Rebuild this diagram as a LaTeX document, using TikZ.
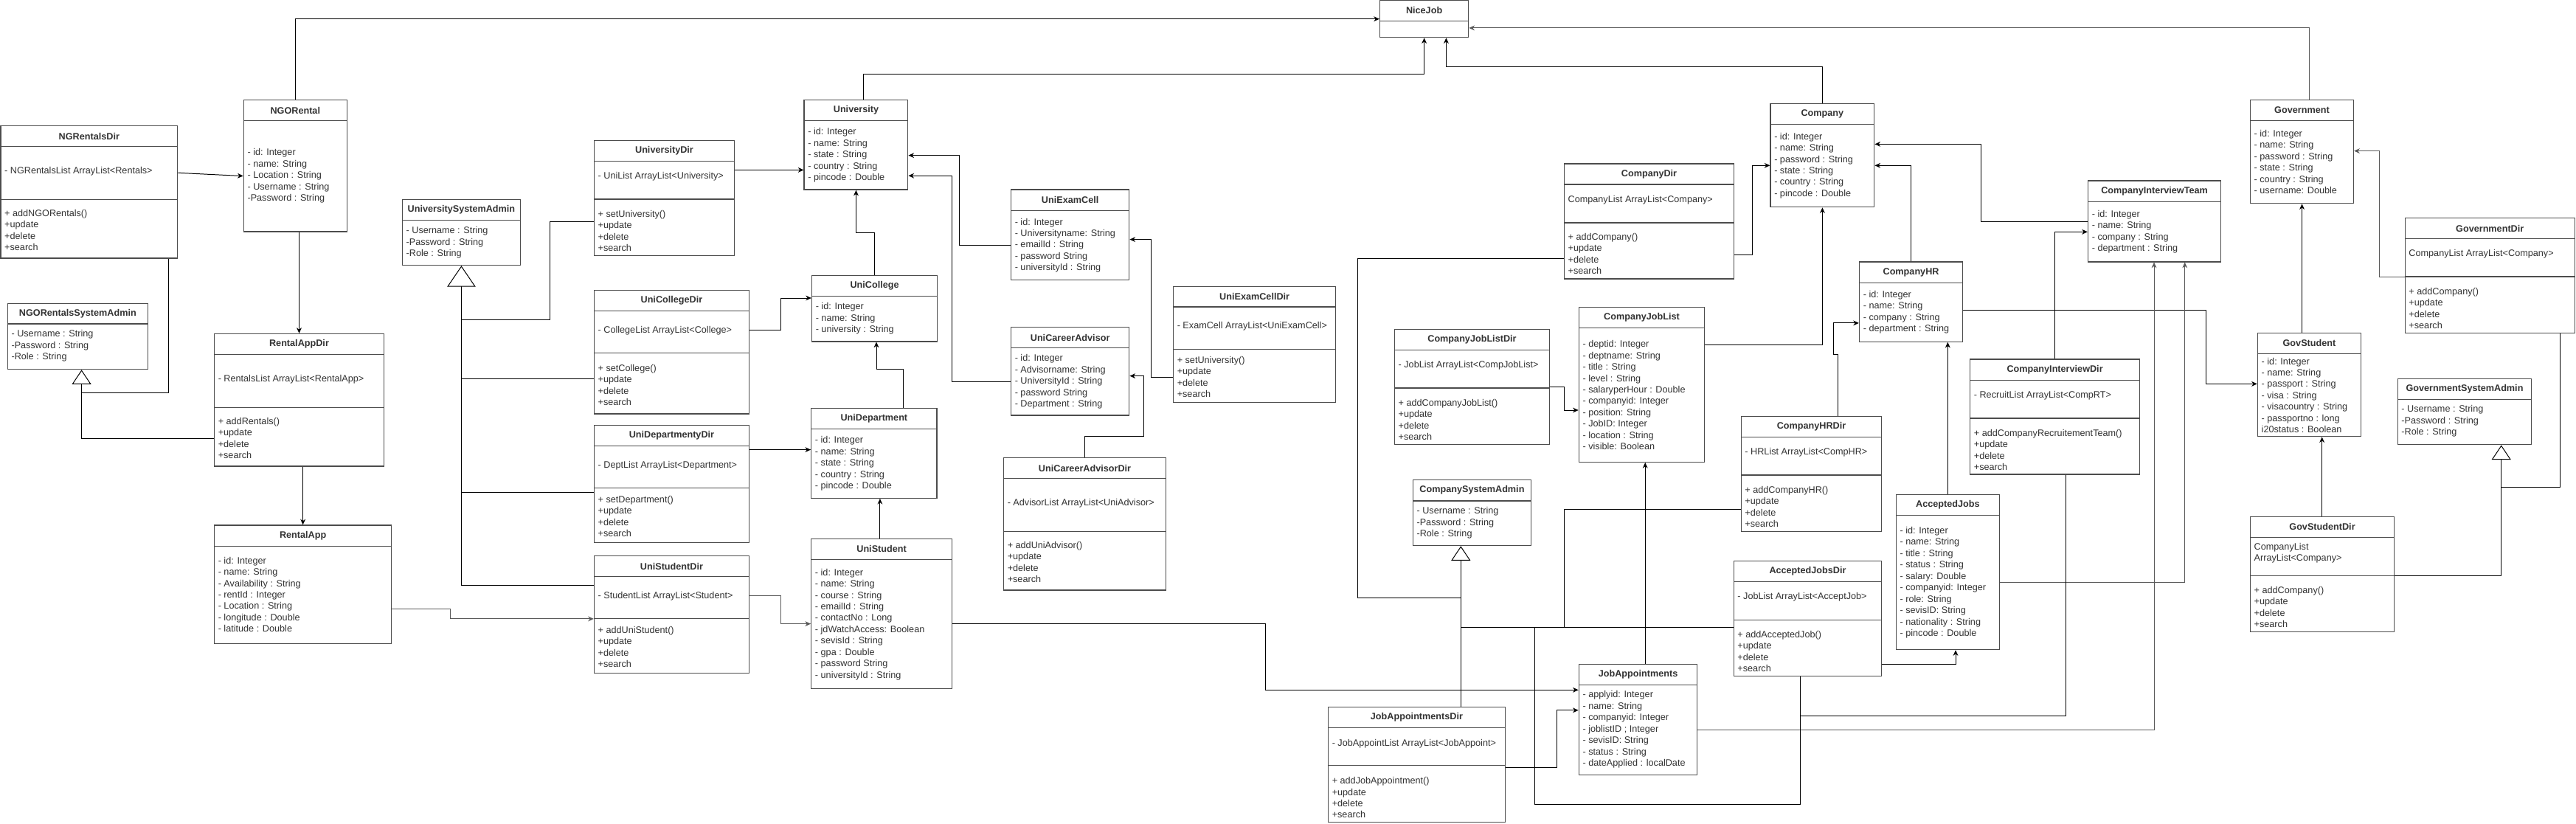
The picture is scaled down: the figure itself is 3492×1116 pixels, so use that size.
\documentclass[tikz,border=0pt]{standalone}
\usepackage{fontspec}
\setmainfont{Liberation Sans}
\usetikzlibrary{arrows.meta,fit,positioning}

% class box: name, x1, y1, x2, y2, header line, title
\newcommand{\umlclass}[7]{%
  \node[classbox, fit={(#2,#3) (#4,#5)}] (#1) {};
  \draw[boxline] (#2,#6) -- (#4,#6);
  \node[classtitle] at ({(#2+#4)/2},{(#3+#6)/2}) {#7};}
\newcommand{\umlsep}[2]{\draw[boxline] (#1.west |- 0,#2) -- (#1.east |- 0,#2);}
\newcommand{\umltext}[3]{\node[classtext] at (#1.west |- 0,#2) {#3};}
\newcommand{\crud}[1]{+ #1\\+update\\+delete\\+search}

\begin{document}
\begin{tikzpicture}
		[x=0.25mm, y=-0.25mm,
		classbox/.style={draw=black!70, line width=0.9pt, inner sep=0pt, fill=white},
		boxline/.style={draw=black!70, line width=0.9pt},
		classtitle/.style={font=\fontsize{9}{11}\selectfont\bfseries, text=black!80, inner sep=0pt},
		classtext/.style={font=\fontsize{9}{11}\selectfont, text=black!80, anchor=west, align=left, inner sep=0pt, xshift=1.4mm},
		wire/.style={draw=black, line width=0.7pt},
		link/.style={wire, -{Stealth[length=1.9mm, width=1.7mm, inset=0.6mm]}},
		greylink/.style={link, draw=black!65},
		gen/.style={wire, -{Triangle[length=4.9mm, width=6.5mm, fill=white]}},
		biggen/.style={wire, -{Triangle[length=7.1mm, width=9.6mm, fill=white]}}]
		\useasboundingbox (0,0) rectangle (3492,1116);

		% NGO rentals
		\umlclass{ngoRentalsDir}{1}{170.4}{240.7}{350}{198.6}{NGRentalsDir}
		\umlsep{ngoRentalsDir}{270.4}
		\umltext{ngoRentalsDir}{232.5}{- NGRentalsList ArrayList<Rentals>}
		\umltext{ngoRentalsDir}{312}{\crud{addNGORentals()}}
		\umlclass{ngoRental}{330.3}{135.4}{470.3}{314}{163.6}{NGORental}
		\umltext{ngoRental}{238.4}{- id: Integer\\- name: String\\- Location : String\\- Username : String\\-Password : String}
		\umlclass{ngoAdmin}{10.3}{411.4}{200.5}{500.7}{439}{NGORentalsSystemAdmin}
		\umltext{ngoAdmin}{468.8}{- Username : String\\-Password : String\\-Role : String}
		\umlclass{rentalAppDir}{290.5}{452.5}{520.5}{632}{480.4}{RentalAppDir}
		\umlsep{rentalAppDir}{552.5}
		\umltext{rentalAppDir}{514.3}{- RentalsList ArrayList<RentalApp>}
		\umltext{rentalAppDir}{594}{\crud{addRentals()}}
		\umlclass{rentalApp}{290.5}{712}{530.8}{872.4}{740.3}{RentalApp}
		\umltext{rentalApp}{806}{- id: Integer\\- name: String\\- Availability : String\\- rentId : Integer\\- Location : String\\- longitude : Double\\- latitude : Double}

		% university
		\umlclass{uniAdmin}{545.4}{270.7}{705.5}{359.6}{298.6}{UniversitySystemAdmin}
		\umltext{uniAdmin}{329.1}{- Username : String\\-Password : String\\-Role : String}
		\umlclass{uniDir}{805.4}{190.4}{995.6}{346.4}{218.2}{UniversityDir}
		\umlsep{uniDir}{270}
		\umltext{uniDir}{239.3}{- UniList ArrayList<University>}
		\umltext{uniDir}{312.9}{\crud{setUniversity()}}
		\umlclass{collegeDir}{805.4}{393.6}{1015.5}{561}{421.4}{UniCollegeDir}
		\umlsep{collegeDir}{478.2}
		\umltext{collegeDir}{448.2}{- CollegeList ArrayList<College>}
		\umltext{collegeDir}{521.8}{\crud{setCollege()}}
		\umlclass{deptDir}{805.4}{576.7}{1015.5}{735.6}{604.6}{UniDepartmentyDir}
		\umlsep{deptDir}{661.7}
		\umltext{deptDir}{631.4}{- DeptList ArrayList<Department>}
		\umltext{deptDir}{700}{\crud{setDepartment()}}
		\umlclass{studentDir}{805.4}{753.5}{1015.5}{912.4}{781.7}{UniStudentDir}
		\umlsep{studentDir}{838.5}
		\umltext{studentDir}{808.5}{- StudentList ArrayList<Student>}
		\umltext{studentDir}{877}{\crud{addUniStudent()}}
		\umlclass{university}{1090.1}{135.4}{1230.8}{257.1}{163.6}{University}
		\umltext{university}{210.4}{- id: Integer\\- name: String\\- state : String\\- country : String\\- pincode : Double}
		\umlclass{college}{1100.5}{373.6}{1270.6}{462.9}{401.4}{UniCollege}
		\umltext{college}{432}{- id: Integer\\- name: String\\- university : String}
		\umlclass{department}{1099.7}{553.6}{1270}{675.3}{581.4}{UniDepartment}
		\umltext{department}{628.5}{- id: Integer\\- name: String\\- state : String\\- country : String\\- pincode : Double}
		\umlclass{student}{1099.7}{730.3}{1290.5}{933.5}{758.5}{UniStudent}
		\umltext{student}{846.4}{- id: Integer\\- name: String\\- course : String\\- emailId : String\\- contactNo : Long\\- jdWatchAccess: Boolean\\- sevisId : String\\- gpa : Double\\- password String\\- universityId : String}
		\umlclass{examCell}{1370.5}{257.1}{1530.8}{379.3}{285.4}{UniExamCell}
		\umltext{examCell}{332.7}{- id: Integer\\- Universityname: String\\- emailId : String\\- password String\\- universityId : String}
		\umlclass{advisor}{1370.5}{443.6}{1530.8}{563.1}{471.4}{UniCareerAdvisor}
		\umltext{advisor}{517.5}{- id: Integer\\- Advisorname: String\\- UniversityId : String\\- password String\\- Department : String}
		\umlclass{examCellDir}{1590.5}{388.2}{1810.8}{545.4}{416.1}{UniExamCellDir}
		\umlsep{examCellDir}{473.6}
		\umltext{examCellDir}{442.5}{- ExamCell ArrayList<UniExamCell>}
		\umltext{examCellDir}{510.9}{\crud{setUniversity()}}
		\umlclass{advisorDir}{1360.5}{620.6}{1580.6}{800}{648.5}{UniCareerAdvisorDir}
		\umlsep{advisorDir}{720.6}
		\umltext{advisorDir}{682.4}{- AdvisorList ArrayList<UniAdvisor>}
		\umltext{advisorDir}{762}{\crud{addUniAdvisor()}}

		% NiceJob and company
		\umlclass{niceJob}{1870.5}{0.7}{1990.7}{50.7}{28.2}{NiceJob}
		\umlclass{companyDir}{2120.4}{222.1}{2350.6}{377.9}{250}{CompanyDir}
		\umlsep{companyDir}{302.1}
		\umltext{companyDir}{271.4}{CompanyList ArrayList<Company>}
		\umltext{companyDir}{344.1}{\crud{addCompany()}}
		\umlclass{jobListDir}{1890.4}{446.4}{2100.5}{602.4}{474.6}{CompanyJobListDir}
		\umlsep{jobListDir}{526.1}
		\umltext{jobListDir}{495.4}{- JobList ArrayList<CompJobList>}
		\umltext{jobListDir}{568.9}{\crud{addCompanyJobList()}}
		\umlclass{jobList}{2140.3}{416.4}{2310.6}{626.4}{444.3}{CompanyJobList}
		\umltext{jobList}{535.7}{- deptid: Integer\\- deptname: String\\- title : String\\- level : String\\- salaryperHour : Double\\- companyid: Integer\\- position: String\\- JobID: Integer\\- location : String\\- visible: Boolean}
		\umlclass{company}{2400}{140.4}{2540.8}{280.7}{168.2}{Company}
		\umltext{company}{224.5}{- id: Integer\\- name: String\\- password : String\\- state : String\\- country : String\\- pincode : Double}
		\umlclass{companyHR}{2520.5}{355}{2660.6}{463.2}{383.2}{CompanyHR}
		\umltext{companyHR}{423}{- id: Integer\\- name: String\\- company : String\\- department : String}
		\umlclass{interviewDir}{2670.6}{487.1}{2900.6}{643.1}{515.4}{CompanyInterviewDir}
		\umlsep{interviewDir}{567.1}
		\umltext{interviewDir}{536.4}{- RecruitList ArrayList<CompRT>}
		\umltext{interviewDir}{610}{\crud{addCompanyRecruitementTeam()}}
		\umlclass{interviewTeam}{2830.5}{245}{3010.6}{355}{273.6}{CompanyInterviewTeam}
		\umltext{interviewTeam}{314}{- id: Integer\\- name: String\\- company : String\\- department : String}
		\umlclass{companyAdmin}{1915.3}{650.3}{2075.6}{739.6}{678.9}{CompanySystemAdmin}
		\umltext{companyAdmin}{709}{- Username : String\\-Password : String\\-Role : String}
		\umlclass{appointDir}{1800.5}{958.5}{2040.4}{1114.2}{986.7}{JobAppointmentsDir}
		\umlsep{appointDir}{1037.8}
		\umltext{appointDir}{1007.8}{- JobAppointList ArrayList<JobAppoint>}
		\umltext{appointDir}{1081.2}{\crud{addJobAppointment()}}
		\umlclass{appointments}{2140.3}{900.3}{2300.7}{1050.6}{928.5}{JobAppointments}
		\umltext{appointments}{989}{- applyid: Integer\\- name: String\\- companyid: Integer\\- joblistID ; Integer\\- sevisID: String\\- status : String\\- dateApplied : localDate}
		\umlclass{hrDir}{2360.2}{564.2}{2550.8}{720.6}{592.4}{CompanyHRDir}
		\umlsep{hrDir}{643.9}
		\umltext{hrDir}{613.5}{- HRList ArrayList<CompHR>}
		\umltext{hrDir}{686.9}{\crud{addCompanyHR()}}
		\umlclass{acceptedDir}{2350.2}{760.6}{2550.8}{916.7}{788.5}{AcceptedJobsDir}
		\umlsep{acceptedDir}{840.3}
		\umltext{acceptedDir}{809.6}{- JobList ArrayList<AcceptJob>}
		\umltext{acceptedDir}{883}{\crud{addAcceptedJob()}}
		\umlclass{accepted}{2570.3}{670.3}{2710.4}{880.6}{698.5}{AcceptedJobs}
		\umltext{accepted}{789.6}{- id: Integer\\- name: String\\- title : String\\- status : String\\- salary: Double\\- companyid: Integer\\- role: String\\- sevisID: String\\- nationality : String\\- pincode : Double}

		% government
		\umlclass{government}{3050.4}{135.4}{3190.5}{275.7}{163.6}{Government}
		\umltext{government}{219.3}{- id: Integer\\- name: String\\- password : String\\- state : String\\- country : String\\- username: Double}
		\umlclass{governmentDir}{3260.2}{295.4}{3490.2}{451.4}{323.6}{GovernmentDir}
		\umlsep{governmentDir}{375}
		\umltext{governmentDir}{344.6}{CompanyList ArrayList<Company>}
		\umltext{governmentDir}{418}{\crud{addCompany()}}
		\umlclass{govStudent}{3060.4}{451.4}{3200.5}{591.7}{479.3}{GovStudent}
		\umltext{govStudent}{535.9}{- id: Integer\\- name: String\\- passport : String\\- visa : String\\- visacountry : String\\- passportno : long\\i20status : Boolean}
		\umlclass{govAdmin}{3250.2}{513.6}{3431.8}{602.8}{541.8}{GovernmentSystemAdmin}
		\umltext{govAdmin}{571}{- Username : String\\-Password : String\\-Role : String}
		\umlclass{govStudentDir}{3050.4}{700.3}{3245.6}{856.7}{728.5}{GovStudentDir}
		\umlsep{govStudentDir}{780.3}
		\umltext{govStudentDir}{749.6}{CompanyList\\ArrayList<Company>}
		\umltext{govStudentDir}{823}{\crud{addCompany()}}

		% links to NiceJob
		\draw[link] (ngoRental.north) |- (niceJob.west);
		\draw[link] (university.north -| 1170.3,0) |- (1930.6,100.4) -- (niceJob.south);
		\draw[link] (company.north) |- (1960.4,90.4) -- (niceJob.south -| 1960.4,0);
		\draw[greylink] (government.north -| 3130.8,0) |- (niceJob.east |- 0,37.9);

		% NGO links
		\draw[link] (ngoRentalsDir.east |- 0,234.3) -- (ngoRental.west |- 0,238.6);
		\draw[link] (rentalAppDir.north |- ngoRental.south) -- (rentalAppDir.north);
		\draw[link] (rentalApp.north |- rentalAppDir.south) -- (rentalApp.north);
		\draw[wire] (ngoRentalsDir.south -| 228.9,0) |- (110.6,532);
		\draw[gen] (rentalAppDir.west |- 0,594) -| (ngoAdmin.south -| 110.6,0);
		\draw[greylink] (rentalApp.east |- 0,825) -| (610.2,838.9) -- (studentDir.west |- 0,838.9);

		% university links
		\draw[biggen] (studentDir.west |- 0,793.5) -| (uniAdmin.south);
		\draw[wire] (uniDir.west |- 0,300.7) -| (745.7,433.2) -- (625.5,433.2);
		\draw[wire] (collegeDir.west |- 0,513.2) -- (625.5,513.2);
		\draw[wire] (deptDir.west |- 0,667.4) -- (625.5,667.4);
		\draw[link] (uniDir.east |- 0,230.4) -- (university.west |- 0,230.4);
		\draw[link] (collegeDir.east |- 0,447.5) -| (1058,404) -- (college.west |- 0,404);
		\draw[link] (deptDir.east |- 0,609.6) -- (department.west |- 0,609.6);
		\draw[greylink] (studentDir.east |- 0,807.8) -| (1058,845.6) -- (student.west |- 0,845.6);
		\draw[link] (college.north -| 1185.6,0) |- (university.south |- 0,315.4) -- (university.south);
		\draw[link] (department.north -| 1224.3,0) |- (1188,500) -- (college.south -| 1188,0);
		\draw[link] (student.north -| 1192.9,0) -- (department.south -| 1192.9,0);
		\draw[link] (examCell.west |- 0,332.5) -| (1300.5,210.7) -- (university.east |- 0,210.7);
		\draw[link] (advisor.west |- 0,517.1) -| (1290.5,238.2) -- (university.east |- 0,238.2);
		\draw[link] (examCellDir.west |- 0,511.4) -| (1560.7,324.6) -- (examCell.east |- 0,324.6);
		\draw[link] (advisorDir.north -| 1470.4,0) |- (1550.4,591.7) |- (advisor.east |- 0,509.6);
		\draw[link] (student.east |- 0,845.6) -| (1715.3,935.3) -- (appointments.west |- 0,935.3);

		% company links
		\draw[link] (companyDir.east |- 0,345) -| (2375.5,224.3) -- (company.west |- 0,224.3);
		\draw[link] (jobListDir.east |- 0,524.3) -| (2120.8,556) -- (jobList.west |- 0,556);
		\draw[link] (jobList.east |- 0,467.9) -| (company.south);
		\draw[link] (companyHR.north) |- (company.east |- 0,224.3);
		\draw[link] (interviewTeam.west |- 0,300.4) -| (2685.5,195.4) -- (company.east |- 0,195.4);
		\draw[link] (hrDir.north -| 2491,0) |- (2485.7,480.7) |- (companyHR.west |- 0,437.9);
		\draw[link] (accepted.north -| 2640.3,0) -- (companyHR.south -| 2640.3,0);
		\draw[link] (companyHR.east |- 0,420.7) -| (2990.7,520.4) -- (govStudent.west |- 0,520.4);
		\draw[link] (interviewDir.north -| 2785.7,0) |- (interviewTeam.west |- 0,314.3);
		\draw[greylink] (accepted.east |- 0,789.2) -| (interviewTeam.south -| 2961.7,0);
		\draw[greylink] (appointments.east |- 0,989.2) -| (interviewTeam.south -| 2920,0);
		\draw[link] (acceptedDir.east |- 0,900.3) -| (accepted.south -| 2651,0);
		\draw[link] (appointments.north -| 2230.2,0) -- (jobList.south -| 2230.2,0);
		\draw[link] (appointDir.east |- 0,1040.3) -| (2110.5,962.8) -- (appointments.west |- 0,962.8);

		% company admin
		\draw[gen] (appointDir.north -| 1980.3,0) -- (companyAdmin.south -| 1980.3,0);
		\draw[wire] (companyDir.west |- 0,350.7) -| (1840.3,810) -- (1980.3,810);
		\draw[wire] (acceptedDir.west |- 0,850.6) -- (1980.3,850.6);
		\draw[wire] (hrDir.west |- 0,690.3) -| (2120.8,850.6);
		\draw[wire] (acceptedDir.south -| 2440.6,0) |- (2080.6,1090.3) -- (2080.6,850.6);
		\draw[wire] (interviewDir.south -| 2800.3,0) |- (2440.6,970.3);

		% government links
		\draw[greylink] (governmentDir.west |- 0,375) -| (3225.3,204.6) -- (government.east |- 0,204.6);
		\draw[link] (govStudent.north -| 3120.5,0) -- (government.south -| 3120.5,0);
		\draw[link] (govStudentDir.north -| 3147.6,0) -- (govStudent.south -| 3147.6,0);
		\draw[gen] (govStudentDir.east |- 0,780.3) -| (govAdmin.south -| 3390.7,0);
		\draw[wire] (governmentDir.south -| 3470.3,0) |- (3390.7,660.3);
	\end{tikzpicture}
\end{document}
